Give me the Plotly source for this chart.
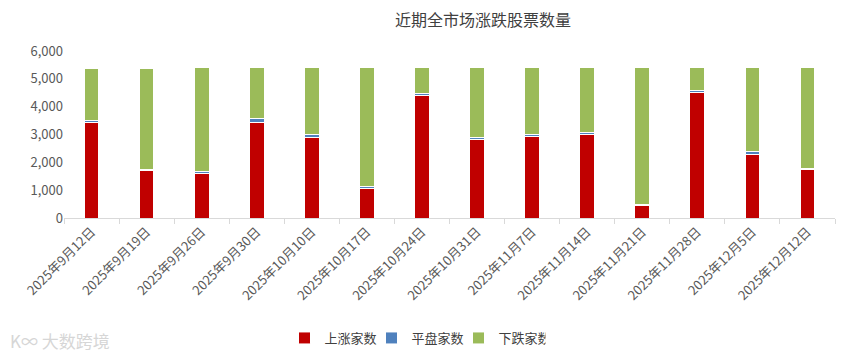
import plotly.graph_objects as go

dates = ["2025年9月12日", "2025年9月19日", "2025年9月26日", "2025年9月30日",
         "2025年10月10日", "2025年10月17日", "2025年10月24日", "2025年10月31日",
         "2025年11月7日", "2025年11月14日", "2025年11月21日", "2025年11月28日",
         "2025年12月5日", "2025年12月12日"]
rise = [3440, 1700, 1610, 3440, 2890, 1060, 4390, 2810, 2930, 3000, 450, 4510, 2270, 1730]
flat = [60, 50, 60, 130, 120, 60, 70, 80, 60, 70, 50, 60, 110, 60]
fall = [1880, 3630, 3740, 1840, 2400, 4290, 950, 2520, 2420, 2340, 4910, 840, 3030, 3620]
y_ticks = [0, 1000, 2000, 3000, 4000, 5000, 6000]

FONT = "Noto Sans CJK SC"
fig = go.Figure()
for name, vals, col in [("上涨家数", rise, "#C00000"),
                        ("平盘家数", flat, "#4F81BD"),
                        ("下跌家数", fall, "#9BBB59")]:
    fig.add_trace(go.Bar(x=dates, y=vals, name=name,
                         marker=dict(color=col, line=dict(color="white", width=1))))

fig.update_layout(
    width=850, height=361,
    margin=dict(l=64, r=15, t=51, b=143, autoexpand=False),
    barmode="stack", bargap=0.733,
    paper_bgcolor="white", plot_bgcolor="white",
    font=dict(family=FONT, size=13, color="#595959"),
    title=dict(text="近期全市场涨跌股票数量", xref="container", x=483/850, xanchor="center",
               yref="container", y=1-20/361, yanchor="middle",
               font=dict(family=FONT, size=16, color="#404040")),
    legend=dict(orientation="h", xref="container", x=415/850, xanchor="center",
                yref="container", y=1-338/361, yanchor="middle",
                font=dict(family=FONT, size=13, color="#404040"),
                itemwidth=30, traceorder="normal", entrywidth=42,
                bgcolor="rgba(0,0,0,0)"),
    showlegend=True,
)
fig.update_xaxes(type="category", showline=True, linecolor="#d9d9d9", linewidth=1,
                 ticks="outside", tickson="boundaries", ticklen=5, tickcolor="#d9d9d9",
                 tickangle=-45, showgrid=False, automargin=False,
                 tickfont=dict(family=FONT, size=13, color="#595959"))
fig.update_yaxes(range=[0, 6000], tickvals=y_ticks, tickformat=",", showgrid=False,
                 showline=False, zeroline=False, ticks="", automargin=False,
                 tickfont=dict(family=FONT, size=13, color="#595959"))

fig.add_annotation(text="K∞ 大数跨境", xref="paper", yref="paper",
                   x=(8-64)/771, y=-(340-218)/167, xanchor="left", yanchor="middle",
                   showarrow=False, font=dict(family=FONT, size=17, color="#d6d6d6"))

fig.write_html("out.html", post_script="document.body.style.margin='0';",
               config={"displayModeBar": False})
